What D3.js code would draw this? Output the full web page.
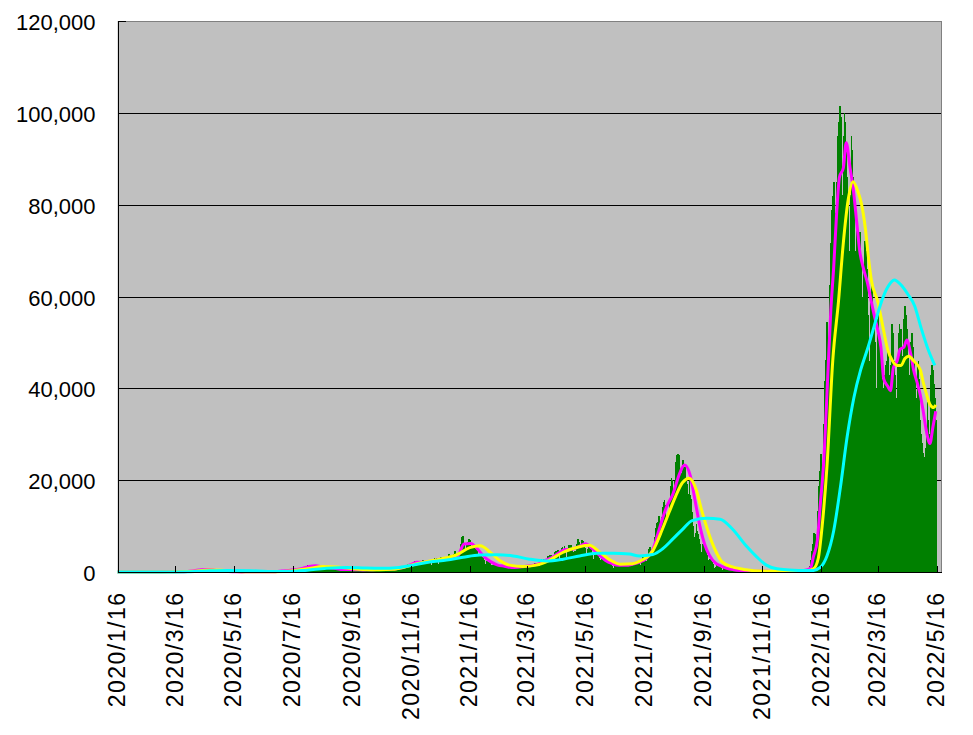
<!DOCTYPE html>
<html>
<head>
<meta charset="utf-8">
<script src="https://cdn.jsdelivr.net/npm/d3@7"></script>
<style>
  html, body { margin: 0; padding: 0; background: #ffffff; }
  svg { display: block; }
  text { font-family: "Liberation Sans", Arial, sans-serif; fill: #000; }
</style>
</head>
<body>
<svg id="chart" width="973" height="735"></svg>
<script>
// ---------------- DATA ----------------
const startDate = "2020-01-16";   // first daily value

// daily new cases, 2020-01-16 .. 2020-12-31
const cases2020 = [
  1,0,0,0,0,0,0,1,1,1,2,0,3,2,3,1,
  0,1,0,0,2,1,0,1,0,0,3,5,1,5,3,8,6,10,5,8,12,15,10,24,14,20,23,18,20,
  15,14,19,30,33,46,40,30,40,50,52,57,60,45,30,20,35,40,40,50,40,40,40,60,93,96,110,200,170,87,210,
  260,230,350,360,390,260,350,500,550,620,720,560,390,450,480,570,500,600,370,400,360,430,430,450,360,200,220,270,200,160,
  200,290,210,130,120,110,90,100,90,75,60,100,80,50,90,60,40,30,30,30,25,25,30,20,20,30,40,60,40,50,40,
  30,40,50,40,40,50,40,30,40,40,40,40,50,70,40,80,50,70,60,60,60,60,50,50,80,90,100,110,90,110,
  120,190,250,270,200,160,190,250,350,430,400,410,260,320,450,620,600,660,510,420,630,800,980,780,840,600,800,980,1260,1300,1580,
  1330,1000,950,1230,1350,1480,1590,1570,1450,1000,700,960,1160,1360,1230,1030,700,1000,1200,1100,1040,1020,600,700,800,900,800,800,700,600,600,
  600,500,600,590,540,420,300,480,520,660,630,570,430,270,480,540,590,480,580,430,320,280,330,490,570,560,510,350,580,550,
  630,520,590,430,370,490,530,520,630,530,350,300,550,650,700,620,590,410,310,600,630,580,740,770,480,440,700,760,800,770,870,
  610,500,830,880,1050,1150,1330,960,920,1280,1550,1640,1700,1740,1430,1030,1700,2200,2390,2400,2170,2170,1520,1230,1930,2500,2500,2670,2060,1430,
  2030,2430,2510,2440,2440,2000,1530,2150,2800,2970,2800,3000,2400,1710,2700,3100,3200,2980,3000,2500,1800,2600,3200,3230,3840,3770,2950,2400,3140,3900,4520
];

// daily new cases, 2021-01-01 .. 2021-12-31
const cases2021 = [
  3200,3070,3150,3330,4900,6000,7570,7880,7800,6080,4870,4530,5800,6600,7130,7040,5740,4920,5320,5660,5690,4990,4720,3990,2720,3840,3950,3530,3350,3320,2540,
  1790,2320,2630,2580,2360,1880,1540,1240,1560,1690,1570,1640,1360,1060,1300,1310,1520,1380,1350,1190,1090,740,1070,1020,1050,1100,990,1090,
  800,900,1000,1120,1150,1050,990,680,1120,1300,1300,1300,1300,1000,990,1460,1500,1500,1470,1400,1120,820,1500,1900,2000,2000,1800,1500,1300,2100,2800,
  2600,2760,2760,2460,1570,2660,3450,3450,3700,3700,2780,2090,3450,4310,4570,4530,4800,4090,2630,4300,5300,5500,5100,5600,4600,3300,4800,5800,5900,4700,
  5900,5000,4300,3900,4600,4300,6000,7200,6500,4800,5300,7000,6800,6300,6400,5200,3700,5100,5700,5600,5000,5000,4200,2800,4100,4700,4100,4100,3700,3100,1900,
  2600,2900,2800,2700,2500,2100,1400,2000,2200,1900,1900,1700,1400,940,1420,1730,1660,1600,1460,1310,1000,1390,1630,1650,1560,1600,1400,1000,1500,1800,
  1760,1900,1900,1900,1400,1700,2200,2200,2200,2500,2000,1500,2400,3200,3400,3400,3100,2300,1900,3700,5000,5400,4200,4000,4700,4700,7600,9600,10700,10800,12300,
  10100,10000,12000,14200,15300,15700,14500,12100,11500,12100,15800,18800,20400,20100,17500,16000,19900,23900,25500,25800,25500,22000,19000,21500,24300,22700,22800,20000,19200,16000,17000,
  20000,16700,16000,13000,10000,7600,8600,10400,9000,8200,7200,6000,4400,4300,6100,5700,5000,4500,3600,2600,1800,2800,3200,2100,2000,1700,900,1100,1600,1400,
  1400,1200,1100,900,500,800,800,700,700,600,300,400,600,500,500,400,300,200,400,400,300,300,300,200,150,300,300,250,250,200,150,
  90,140,200,150,160,150,160,100,140,200,190,180,170,130,80,130,190,170,140,140,130,50,90,120,120,120,80,110,80,120,
  140,120,140,140,130,80,140,160,180,140,150,150,110,140,180,180,200,200,170,200,250,200,290,280,340,250,300,400,500,570,550
];

// daily new cases, 2022-01-01 .. 2022-05-15
const cases2022 = [
  460,550,780,1200,2600,4500,6200,8500,8200,6400,6300,13200,18800,22000,25700,25700,20700,32200,41500,46200,49900,54500,50000,35000,62600,71600,78900,81800,84900,78200,59800,
  85000,95000,98000,101500,99000,90000,82000,95000,100000,98000,92000,86000,80000,70000,82000,95000,92000,86000,79000,70000,62000,76000,64000,72000,74000,68000,60000,52000,
  66000,72000,70000,66000,62000,56000,46000,60000,63000,62000,57000,55000,50000,40000,55000,58000,52000,48000,45000,42000,37000,40000,43000,45000,46000,48000,43000,36000,45000,54000,52000,
  50000,46000,43000,38000,47000,52000,54000,53000,53000,47000,40000,55000,58000,56000,53000,47000,43000,38000,50000,52000,49000,46000,43000,38000,30000,45000,46000,42000,33000,30000,
  28000,26000,25000,27000,30000,37000,33000,30000,27000,43000,45000,44000,41000,38000,33000
];

// magenta line (short-term average)
const magentaLine = [
  ["2020-01-16",0],["2020-02-01",1],["2020-02-15",4],["2020-02-29",16],["2020-03-08",30],["2020-03-15",45],["2020-03-22",38],["2020-03-29",115],
  ["2020-04-05",300],["2020-04-12",500],["2020-04-19",520],["2020-04-26",390],["2020-05-03",210],["2020-05-10",100],["2020-05-17",60],["2020-05-24",26],
  ["2020-05-31",40],["2020-06-07",42],["2020-06-14",48],["2020-06-21",62],["2020-06-28",80],["2020-07-05",200],["2020-07-12",330],["2020-07-19",530],
  ["2020-07-26",780],["2020-08-02",1200],["2020-08-09",1350],["2020-08-16",1130],["2020-08-23",950],["2020-08-30",750],["2020-09-06",540],["2020-09-13",520],
  ["2020-09-20",500],["2020-09-27",450],["2020-10-04",510],["2020-10-11",520],["2020-10-18",550],["2020-10-25",600],["2020-11-01",720],["2020-11-08",970],
  ["2020-11-15",1520],["2020-11-22",2100],["2020-11-29",2140],["2020-12-06",2300],["2020-12-13",2600],["2020-12-20",2800],["2020-12-27",3250],
  ["2021-01-03",3400],["2021-01-10",6100],["2021-01-17",6200],["2021-01-24",5000],["2021-01-31",3300],["2021-02-07",2200],["2021-02-14",1500],
  ["2021-02-21",1270],["2021-02-28",1000],["2021-03-07",1060],["2021-03-14",1180],["2021-03-21",1400],["2021-03-28",1700],["2021-04-04",2480],
  ["2021-04-11",3130],["2021-04-18",4070],["2021-04-25",4910],["2021-05-02",4940],["2021-05-09",5510],["2021-05-16",6140],["2021-05-23",5140],
  ["2021-05-30",3800],["2021-06-06",2500],["2021-06-13",1810],["2021-06-20",1460],["2021-06-27",1460],["2021-07-04",1700],["2021-07-11",2100],
  ["2021-07-18",2900],["2021-07-25",4800],["2021-08-01",9500],["2021-08-08",14000],["2021-08-15",17000],["2021-08-22",21500],["2021-08-27",23300],
  ["2021-09-02",21000],["2021-09-07",15500],["2021-09-12",10000],["2021-09-17",6000],["2021-09-22",3600],["2021-09-28",2000],["2021-10-03",1400],
  ["2021-10-10",800],["2021-10-17",500],["2021-10-24",330],["2021-10-31",250],["2021-11-07",150],["2021-11-14",160],["2021-11-21",150],["2021-11-28",100],
  ["2021-12-05",130],["2021-12-12",150],["2021-12-19",170],["2021-12-26",260],
  ["2022-01-02",500],["2022-01-05",900],["2022-01-08",3400],["2022-01-12",6900],["2022-01-15",14500],["2022-01-19",25200],["2022-01-22",38700],
  ["2022-01-26",57000],["2022-01-29",66400],["2022-02-01",78000],["2022-02-04",86000],["2022-02-08",88000],["2022-02-11",93500],["2022-02-15",88000],
  ["2022-02-18",84000],["2022-02-22",76000],["2022-02-25",70000],["2022-03-01",66000],["2022-03-05",63000],["2022-03-08",60000],["2022-03-12",56000],
  ["2022-03-16",52500],["2022-03-19",49000],["2022-03-22",42000],["2022-03-26",40500],["2022-03-29",39500],["2022-04-01",44500],["2022-04-05",46000],
  ["2022-04-08",48500],["2022-04-12",49000],["2022-04-15",50500],["2022-04-19",47500],["2022-04-22",44000],["2022-04-26",41000],["2022-04-29",38500],
  ["2022-05-02",35000],["2022-05-05",31000],["2022-05-09",28000],["2022-05-12",31500],["2022-05-15",35000]
];

// yellow line (medium-term average)
const yellowLine = [
  ["2020-01-16",0],["2020-03-01",10],["2020-03-20",35],["2020-04-05",150],["2020-04-19",420],["2020-05-03",380],["2020-05-17",130],["2020-05-31",40],
  ["2020-06-21",55],["2020-07-05",120],["2020-07-19",380],["2020-08-02",750],["2020-08-16",1200],["2020-08-30",1100],["2020-09-13",800],["2020-09-27",550],
  ["2020-10-14",500],["2020-10-28",580],["2020-11-11",1200],["2020-11-28",2100],["2020-12-16",2800],
  ["2021-01-02",3700],["2021-01-16",5300],["2021-01-27",5700],["2021-02-06",4300],["2021-02-16",2500],["2021-02-26",1500],["2021-03-12",1200],
  ["2021-03-26",1500],["2021-04-08",2500],["2021-04-23",4300],["2021-05-10",5500],["2021-05-20",5800],["2021-05-31",4300],["2021-06-10",2700],
  ["2021-06-21",1700],["2021-07-04",1800],["2021-07-12",2400],["2021-07-25",4600],["2021-08-04",9300],["2021-08-11",13000],["2021-08-18",16600],
  ["2021-08-25",19500],["2021-09-01",20400],["2021-09-08",18000],["2021-09-14",13300],["2021-09-22",7900],["2021-09-29",4300],["2021-10-05",2200],
  ["2021-10-16",1100],["2021-10-30",500],["2021-11-15",200],["2021-12-01",150],["2021-12-20",160],
  ["2022-01-01",250],["2022-01-08",700],["2022-01-13",3000],["2022-01-17",10000],["2022-01-22",23000],["2022-01-28",46000],["2022-02-03",59000],
  ["2022-02-08",71700],["2022-02-13",81000],["2022-02-18",85000],["2022-02-23",83000],["2022-02-27",80000],["2022-03-03",74600],["2022-03-06",68700],
  ["2022-03-09",63700],["2022-03-16",58700],["2022-03-21",53500],["2022-03-26",48500],["2022-03-31",46000],["2022-04-05",45000],["2022-04-09",45000],
  ["2022-04-13",46500],["2022-04-17",47000],["2022-04-22",46000],["2022-04-29",44000],["2022-05-02",41300],["2022-05-05",39000],["2022-05-09",36500],
  ["2022-05-13",35800],["2022-05-15",36400]
];

// cyan line (long-term average)
const cyanLine = [
  ["2020-01-16",0],["2020-03-01",10],["2020-04-01",80],["2020-04-20",250],["2020-05-10",330],["2020-06-01",280],["2020-06-20",130],["2020-07-10",100],
  ["2020-07-31",400],["2020-08-20",800],["2020-09-10",1000],["2020-09-30",850],["2020-10-14",800],["2020-11-04",1000],["2020-11-18",1500],
  ["2020-12-05",2200],["2020-12-23",2600],
  ["2021-01-09",3200],["2021-01-26",3700],["2021-02-13",3750],["2021-03-02",3500],["2021-03-19",2800],["2021-04-06",2400],["2021-04-23",2800],
  ["2021-05-10",3500],["2021-05-28",4100],["2021-06-14",4100],["2021-07-01",3900],["2021-07-11",3500],["2021-07-25",3800],["2021-08-04",5000],
  ["2021-08-15",7200],["2021-08-25",9300],["2021-09-04",11200],["2021-09-19",11700],["2021-10-03",11500],["2021-10-16",9300],["2021-10-30",5700],
  ["2021-11-10",3300],["2021-11-20",1500],["2021-12-01",700],["2021-12-14",450],["2021-12-31",300],
  ["2022-01-08",350],["2022-01-15",1000],["2022-01-22",3500],["2022-01-29",9000],["2022-02-05",18500],["2022-02-12",29500],["2022-02-19",38000],
  ["2022-02-26",44000],["2022-03-05",48500],["2022-03-12",53500],["2022-03-19",58500],["2022-03-26",62000],["2022-04-02",63600],["2022-04-09",62500],
  ["2022-04-16",60500],["2022-04-23",58000],["2022-04-30",53000],["2022-05-07",48500],["2022-05-14",45000]
];

const xTickLabels = ["2020/1/16","2020/3/16","2020/5/16","2020/7/16","2020/9/16","2020/11/16",
  "2021/1/16","2021/3/16","2021/5/16","2021/7/16","2021/9/16","2021/11/16",
  "2022/1/16","2022/3/16","2022/5/16"];
const yTickValues = [0, 20000, 40000, 60000, 80000, 100000, 120000];

// ---------------- CHART ----------------
const svg = d3.select("#chart");
const parseISO = d3.utcParse("%Y-%m-%d");
const parseTick = d3.utcParse("%Y/%m/%d");
const DAY = 86400000;

const plot = { left: 117.5, right: 942, top: 21, bottom: 572 };

const t0 = parseISO(startDate);
const daily = cases2020.concat(cases2021, cases2022)
  .map((v, i) => ({ date: new Date(t0.getTime() + i * DAY), value: v }));

const x = d3.scaleUtc()
  .domain([t0, new Date(Date.UTC(2022, 4, 21, 12))])
  .range([plot.left, plot.right]);
const y = d3.scaleLinear()
  .domain([0, 120000])
  .range([plot.bottom, plot.top]);

// plot background
svg.append("rect")
  .attr("x", plot.left).attr("y", plot.top)
  .attr("width", plot.right - plot.left).attr("height", plot.bottom - plot.top)
  .attr("fill", "#c0c0c0");

// gridlines
svg.append("g")
  .selectAll("line")
  .data(yTickValues.filter(v => v > 0 && v < 120000))
  .join("line")
  .attr("x1", plot.left).attr("x2", plot.right)
  .attr("y1", d => Math.round(y(d)) + 0.5).attr("y2", d => Math.round(y(d)) + 0.5)
  .attr("stroke", "#000").attr("stroke-width", 1)
  .attr("shape-rendering", "crispEdges");

// bars
const step = x(new Date(t0.getTime() + DAY)) - x(t0);
svg.append("g")
  .attr("shape-rendering", "crispEdges")
  .selectAll("rect")
  .data(daily)
  .join("rect")
  .attr("x", d => x(d.date) - step / 2)
  .attr("width", step + 0.6)
  .attr("y", d => y(d.value))
  .attr("height", d => y(0) - y(d.value))
  .attr("fill", "#008000");

// lines
const lineGen = d3.line()
  .x(d => x(parseISO(d[0])))
  .y(d => y(d[1]))
  .curve(d3.curveMonotoneX);

[[magentaLine, "#ff00ff"], [yellowLine, "#ffff00"], [cyanLine, "#00ffff"]].forEach(([data, color]) => {
  svg.append("path")
    .datum(data)
    .attr("d", lineGen)
    .attr("fill", "none")
    .attr("stroke", color)
    .attr("stroke-width", 3)
    .attr("stroke-linejoin", "round");
});

// plot border (top/right gray)
svg.append("path")
  .attr("d", `M${plot.left},${plot.top + 0.5}H${plot.right - 0.5}V${plot.bottom}`)
  .attr("fill", "none").attr("stroke", "#808080").attr("stroke-width", 1)
  .attr("shape-rendering", "crispEdges");

// y axis
const yAxis = d3.axisRight(y)
  .tickValues(yTickValues)
  .tickSize(7)
  .tickFormat("");
const yg = svg.append("g")
  .attr("transform", `translate(${Math.round(plot.left) + 0.5},0)`)
  .call(yAxis);
yg.selectAll("path, line").attr("stroke", "#000").attr("shape-rendering", "crispEdges");
yg.select(".domain").attr("d", `M0,${plot.top}V${plot.bottom + 0.5}`);

svg.append("g")
  .selectAll("text")
  .data(yTickValues)
  .join("text")
  .attr("x", 95.5)
  .attr("y", d => y(d) + 9)
  .attr("text-anchor", "end")
  .attr("font-size", 22)
  .text(d => d3.format(",")(d));

// x axis
const xTickDates = xTickLabels.map(s => parseTick(s));
const xAxis = d3.axisTop(x)
  .tickValues(xTickDates)
  .tickSize(7)
  .tickFormat("");
const xg = svg.append("g")
  .attr("transform", `translate(0,${plot.bottom + 0.5})`)
  .call(xAxis);
xg.selectAll("path, line").attr("stroke", "#000").attr("shape-rendering", "crispEdges");
xg.select(".domain").attr("d", `M${plot.left},0H${plot.right}`);

svg.append("g")
  .selectAll("text")
  .data(xTickLabels)
  .join("text")
  .attr("transform", s => `translate(${x(parseTick(s)) + 7.5},593) rotate(-90)`)
  .attr("text-anchor", "end")
  .attr("font-size", 23)
  .attr("textLength", s => s.length * 12.7)
  .attr("lengthAdjust", "spacing")
  .text(s => s);
</script>
</body>
</html>
